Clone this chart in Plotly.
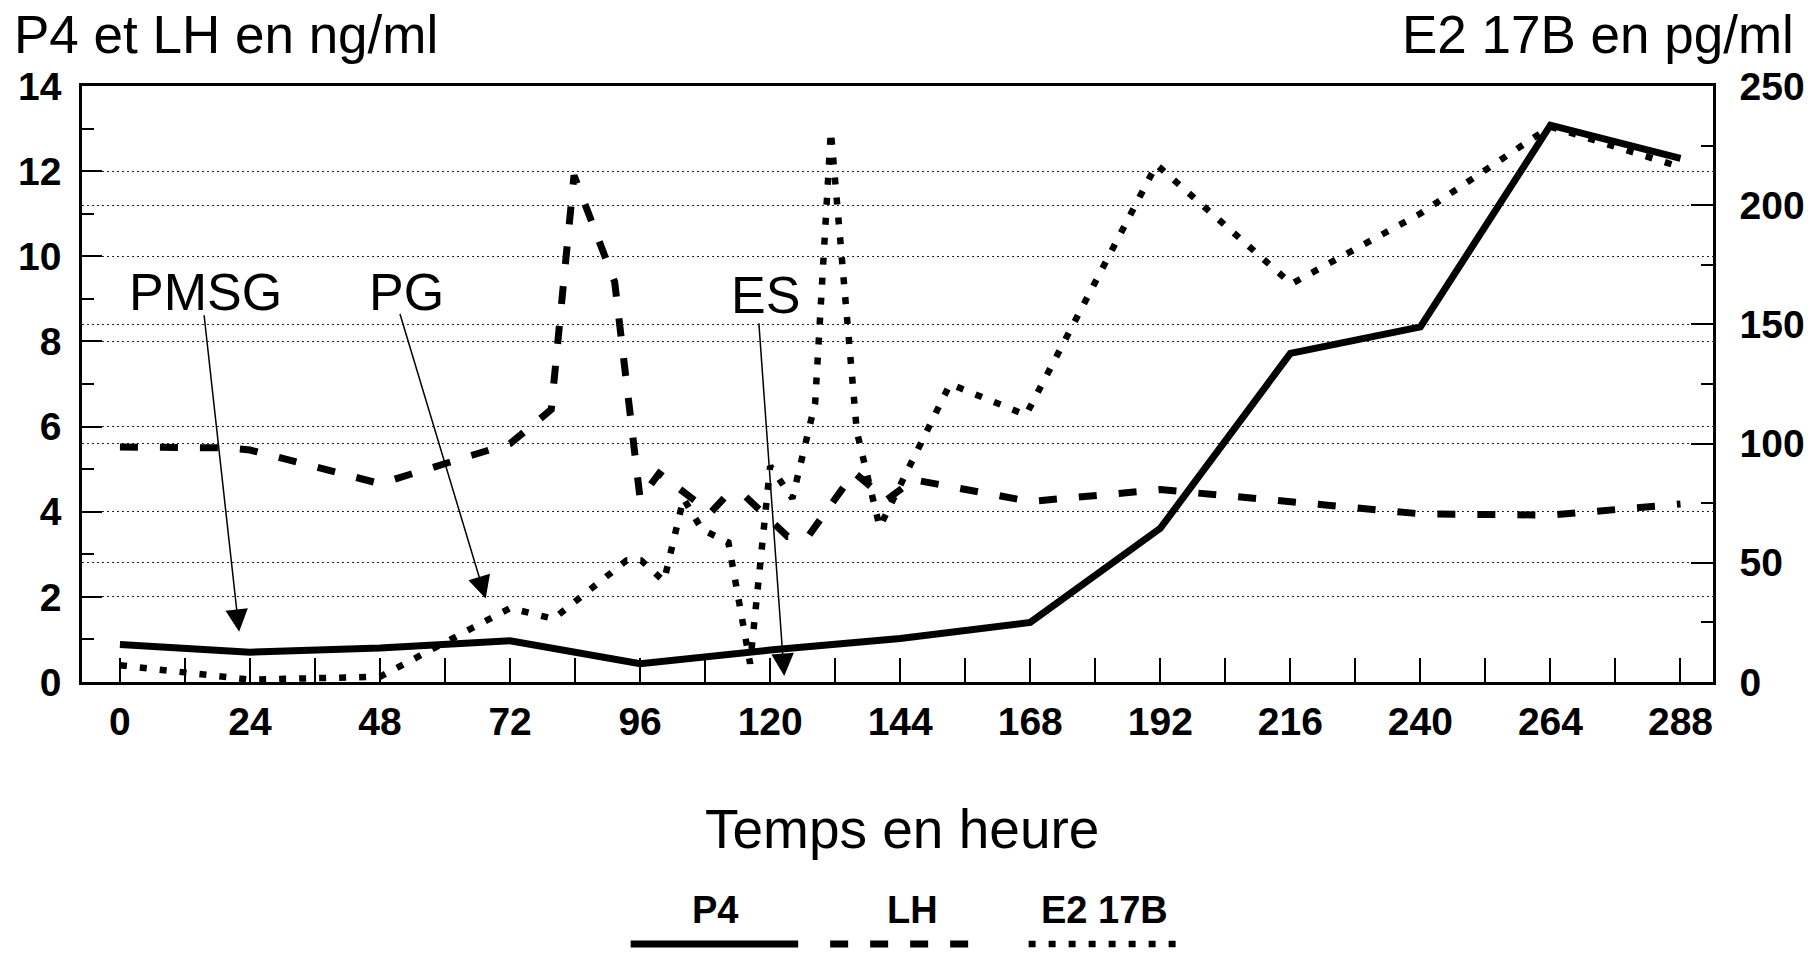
import plotly.graph_objects as go

# ---------------- data ----------------
hours_p4 = [0, 24, 48, 72, 96, 120, 144, 168, 192, 216, 240, 264, 288]
p4 = [0.88, 0.70, 0.80, 0.97, 0.43, 0.75, 1.02, 1.40, 3.61, 7.72, 8.34, 13.08, 12.30]

hours_lh = [0, 20, 24, 48, 72, 76, 79.6, 83.8, 91.3, 96, 99.5, 109, 111.5, 115.5,
            123.2, 127, 135.5, 141.5, 146.5, 168, 192, 240, 264, 288]
lh = [5.52, 5.50, 5.45, 4.66, 5.60, 6.00, 6.40, 11.90, 9.40, 4.30, 4.90, 3.98, 4.32, 4.35,
      3.42, 3.42, 4.92, 4.28, 4.75, 4.24, 4.52, 3.95, 3.92, 4.18]

hours_e2 = [0, 24, 48, 72, 80, 93.5, 96.2, 100.4, 104, 107.4, 112.3, 116.3, 120, 124.1,
            128.3, 131.2, 136, 140.2, 153.2, 167.2, 191.3, 216.2, 240, 264, 288]
e2 = [7.0, 1.0, 2.2, 31.0, 26.5, 51.0, 51.0, 42.3, 77.0, 64.0, 58.5, 7.7, 90.6, 77.0,
      117.0, 231.0, 105.0, 65.0, 125.0, 112.0, 217.0, 167.0, 196.5, 233.0, 216.0]

x_ticks = [0, 24, 48, 72, 96, 120, 144, 168, 192, 216, 240, 264, 288]
left_ticks = [0, 2, 4, 6, 8, 10, 12, 14]
right_ticks = [0, 50, 100, 150, 200, 250]

event_labels = ["PMSG", "PG", "ES"]
event_tip_h = [22.0, 67.5, 122.6]
event_tip_v = [1.18, 1.96, 0.14]
event_tail_h = [15.5, 51.6, 117.9]
event_tail_v = [8.65, 8.68, 8.46]
event_text_h = [15.7, 52.9, 119.2]
event_text_v = [9.16, 9.16, 9.10]

series_names = ["P4", "LH", "E2 17B"]

# ---------------- style ----------------
FONT = "Liberation Sans, Arial, Helvetica, sans-serif"
BLACK = "#000000"
P4_STYLE = dict(color=BLACK, width=7)
LH_STYLE = dict(color=BLACK, width=7, dash="18px,22px")
E2_STYLE = dict(color=BLACK, width=6.5, dash="7px,13px")

fig = go.Figure()
fig.add_trace(go.Scatter(x=hours_p4, y=p4, mode="lines", line=P4_STYLE,
                         name=series_names[0], yaxis="y"))
fig.add_trace(go.Scatter(x=hours_lh, y=lh, mode="lines", line=LH_STYLE,
                         name=series_names[1], yaxis="y"))
fig.add_trace(go.Scatter(x=hours_e2, y=e2, mode="lines", line=E2_STYLE,
                         name=series_names[2], yaxis="y2"))

tickfont = dict(family=FONT, size=39, color=BLACK, weight="bold")

fig.update_layout(
    width=1817, height=956,
    margin=dict(l=82, r=100, t=86, b=274),
    paper_bgcolor="white", plot_bgcolor="white",
    showlegend=False,
    xaxis=dict(
        range=[-7, 294], tickmode="array", tickvals=x_ticks,
        ticktext=[str(v) for v in x_ticks],
        ticks="inside", ticklen=24, tickwidth=2, tickcolor=BLACK,
        minor=dict(dtick=12, tick0=0, ticks="inside", ticklen=24, tickwidth=2,
                   tickcolor=BLACK, showgrid=False),
        showline=True, linewidth=2.5, linecolor=BLACK, mirror=True,
        showgrid=False, zeroline=False, tickfont=tickfont, ticklabelstandoff=3,
    ),
    yaxis=dict(
        range=[0, 14], tickmode="array", tickvals=left_ticks,
        ticks="inside", ticklen=20, tickwidth=2, tickcolor=BLACK,
        minor=dict(dtick=1, tick0=0, ticks="inside", ticklen=12, tickwidth=2,
                   tickcolor=BLACK, showgrid=False),
        showline=True, linewidth=2.5, linecolor=BLACK, mirror=False,
        showgrid=True, gridcolor="#222222", gridwidth=1.2, griddash="2px,3px",
        zeroline=False, tickfont=tickfont, ticklabelstandoff=10,
    ),
    yaxis2=dict(
        range=[0, 250], overlaying="y", side="right", tickmode="array",
        tickvals=right_ticks,
        ticks="inside", ticklen=22, tickwidth=2, tickcolor=BLACK,
        minor=dict(dtick=25, tick0=0, ticks="inside", ticklen=12, tickwidth=2,
                   tickcolor=BLACK, showgrid=False),
        showline=True, linewidth=2.5, linecolor=BLACK,
        showgrid=True, gridcolor="#222222", gridwidth=1.2, griddash="2px,3px",
        zeroline=False, tickfont=tickfont, ticklabelstandoff=16,
    ),
)

annotations = []
# Axis titles
annotations.append(dict(text="P4 et LH en ng/ml", xref="paper", yref="paper",
                        x=-0.043, y=1.087, xanchor="left", yanchor="middle",
                        showarrow=False, font=dict(family=FONT, size=53, color=BLACK)))
annotations.append(dict(text="E2 17B en pg/ml", xref="paper", yref="paper",
                        x=1.0508, y=1.087, xanchor="right", yanchor="middle",
                        showarrow=False, font=dict(family=FONT, size=53, color=BLACK)))
annotations.append(dict(text="Temps en heure", xref="paper", yref="paper",
                        x=0.5028, y=-0.247, xanchor="center", yanchor="middle",
                        showarrow=False, font=dict(family=FONT, size=55, color=BLACK)))

# Event labels and arrows
for lab, th, tv, ah, av, xh, xv in zip(event_labels, event_tip_h, event_tip_v,
                                       event_tail_h, event_tail_v,
                                       event_text_h, event_text_v):
    annotations.append(dict(text=lab, x=xh, y=xv, xref="x", yref="y",
                            xanchor="center", yanchor="middle", showarrow=False,
                            font=dict(family=FONT, size=52, color=BLACK)))
    annotations.append(dict(text="", x=th, y=tv, xref="x", yref="y",
                            ax=ah, ay=av, axref="x", ayref="y",
                            showarrow=True, arrowhead=2, arrowsize=3,
                            arrowwidth=1.5, arrowcolor=BLACK, standoff=0))

# Custom legend: label above a line sample
legend_label_x = [0.3878, 0.5095, 0.6269]
legend_line_x0 = [0.3364, 0.4587, 0.5804]
legend_line_x1 = [0.4391, 0.5511, 0.6740]
legend_styles = [P4_STYLE, LH_STYLE, E2_STYLE]
shapes = []
for name, lx, x0, x1, st in zip(series_names, legend_label_x, legend_line_x0,
                                legend_line_x1, legend_styles):
    annotations.append(dict(text=name, xref="paper", yref="paper", x=lx, y=-0.383,
                            xanchor="center", yanchor="middle", showarrow=False,
                            font=dict(family=FONT, size=38, color=BLACK, weight="bold")))
    line = dict(color=st["color"], width=st["width"])
    if "dash" in st:
        line["dash"] = st["dash"]
    shapes.append(dict(type="line", xref="paper", yref="paper", x0=x0, x1=x1,
                       y0=-0.4396, y1=-0.4396, line=line))

fig.update_layout(annotations=annotations, shapes=shapes)

fig.write_html("out.html", config={"displayModeBar": False},
               post_script="document.body.style.margin='0px';")
